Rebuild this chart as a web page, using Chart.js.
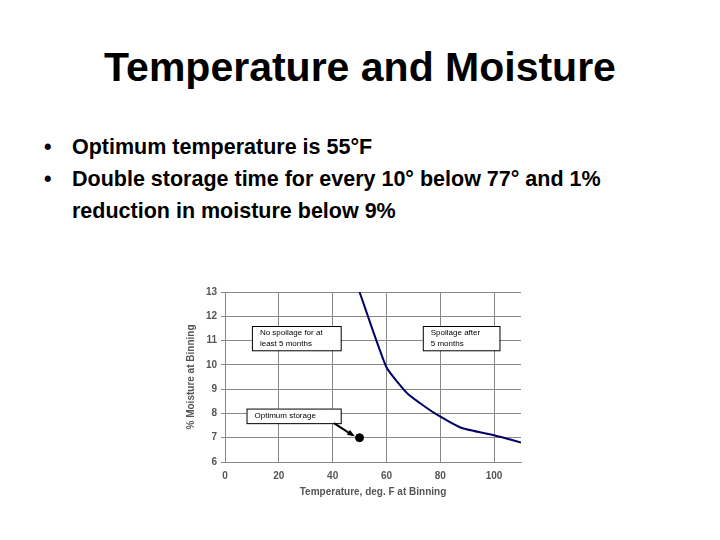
<!DOCTYPE html><html><head><meta charset="utf-8">
<script src="https://cdn.jsdelivr.net/npm/chart.js@4"></script>
<style>
body{margin:0;width:720px;height:540px;background:#fff;font-family:"Liberation Sans",Arial,sans-serif;position:relative;overflow:hidden}
h1{position:absolute;top:44px;left:0;width:720px;text-align:center;margin:0;font-size:41px;font-weight:bold;color:#000}
ul{position:absolute;top:131px;left:30px;width:640px;margin:0;padding:0;list-style:none;font-size:21.5px;font-weight:bold;line-height:32px}
li{padding-left:42px;text-indent:-28px}
li:before{content:"•";display:inline-block;width:28px;text-indent:0}
#wrap{position:absolute;left:185px;top:280px;width:341px;height:222px}
</style></head><body>
<h1>Temperature and Moisture</h1>
<ul><li>Optimum temperature is 55°F</li><li>Double storage time for every 10° below 77° and 1% reduction in moisture below 9%</li></ul>
<div id="wrap"><canvas id="c"></canvas></div>
<script>
const curveX=[50,60,68,78,88,100,110];
const curveY=[13,9.9,8.8,8,7.4,7.1,6.8];
const optX=[50], optY=[7];
const xTicks=[0,20,40,60,80,100];
const yTicks=[6,7,8,9,10,11,12,13];
const boxes=[
 {x1:10,x2:43,y1:11.6,y2:10.6,lines:["No spoilage for at","least 5 months"]},
 {x1:73.5,x2:102,y1:11.6,y2:10.6,lines:["Spoilage after","5 months"]},
 {x1:8,x2:43,y1:8.2,y2:7.6,lines:["Optimum storage"]}
];
const arrow={x1:40.5,y1:7.6,x2:47.5,y2:7.1};
const overlay={id:'overlay',afterDatasetsDraw(ch){
 const c=ch.ctx,x=ch.scales.x,y=ch.scales.y;
 c.save();c.font='8px "Liberation Sans",Arial';c.textBaseline='middle';
 boxes.forEach(b=>{const L=x.getPixelForValue(b.x1),R=x.getPixelForValue(b.x2),T=y.getPixelForValue(b.y1),B=y.getPixelForValue(b.y2);
  c.fillStyle='#fff';c.fillRect(L,T,R-L,B-T);c.strokeStyle='#000';c.lineWidth=1;c.strokeRect(L+.5,T+.5,R-L,B-T);
  c.fillStyle='#000';const n=b.lines.length;b.lines.forEach((s,i)=>c.fillText(s,L+8,(T+B)/2+(i-(n-1)/2)*11));});
 const ax1=x.getPixelForValue(arrow.x1),ay1=y.getPixelForValue(arrow.y1),ax2=x.getPixelForValue(arrow.x2),ay2=y.getPixelForValue(arrow.y2);
 c.strokeStyle='#000';c.lineWidth=2;c.beginPath();c.moveTo(ax1,ay1);c.lineTo(ax2,ay2);c.stroke();
 const a=Math.atan2(ay2-ay1,ax2-ax1);c.fillStyle='#000';c.beginPath();c.moveTo(ax2+2,ay2+1);
 c.lineTo(ax2-6*Math.cos(a-0.5),ay2-6*Math.sin(a-0.5));c.lineTo(ax2-6*Math.cos(a+0.5),ay2-6*Math.sin(a+0.5));c.fill();
 c.restore();}};
new Chart(document.getElementById('c'),{type:'scatter',
 data:{datasets:[
  {data:curveX.map((v,i)=>({x:v,y:curveY[i]})),showLine:true,borderColor:'#000066',borderWidth:2,pointRadius:0,tension:0.15},
  {data:optX.map((v,i)=>({x:v,y:optY[i]})),backgroundColor:'#000',borderColor:'#000',pointRadius:4}
 ]},
 plugins:[overlay],
 options:{responsive:true,maintainAspectRatio:false,animation:false,layout:{padding:{top:12,right:5}},
  plugins:{legend:{display:false},tooltip:{enabled:false}},
  scales:{
   x:{type:'linear',min:0,max:110,afterBuildTicks(s){s.ticks=xTicks.map(v=>({value:v}));},afterFit(s){s.height=40;},
    grid:{color:'#888',drawTicks:false},border:{color:'#888'},
    ticks:{color:'#555',padding:8,font:{size:10,weight:'bold'}},
    title:{display:true,text:'Temperature, deg. F at Binning',color:'#555',font:{size:10,weight:'bold'},padding:{top:2}}},
   y:{min:6,max:13,afterBuildTicks(s){s.ticks=yTicks.map(v=>({value:v}));},afterFit(s){s.width=40;},
    grid:{color:'#888',tickLength:4},border:{color:'#888'},
    ticks:{color:'#555',padding:4,font:{size:10,weight:'bold'}},
    title:{display:true,text:'% Moisture at Binning',color:'#555',font:{size:10,weight:'bold'},padding:0}}
  }}});
</script></body></html>
